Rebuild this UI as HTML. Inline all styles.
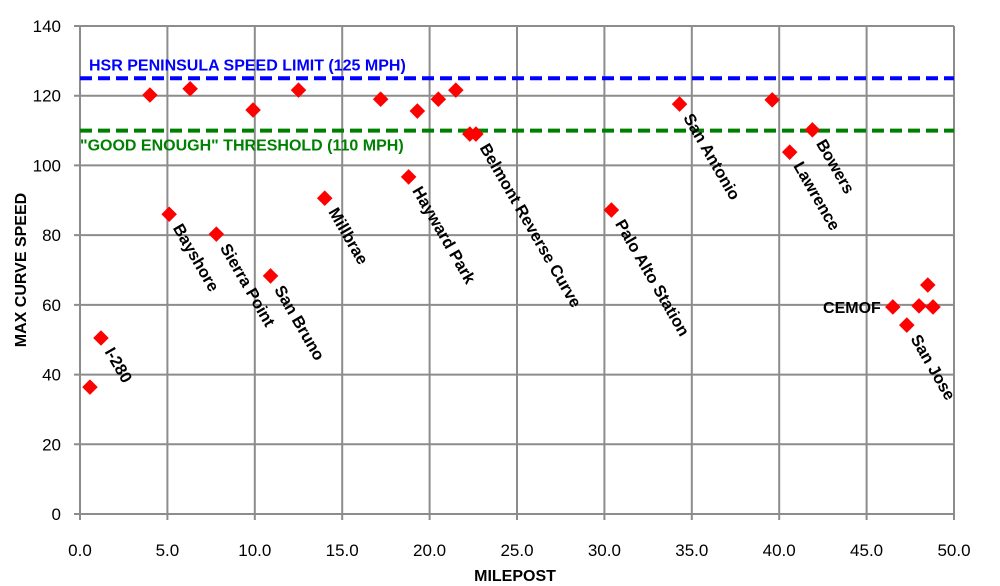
<!DOCTYPE html>
<html><head><meta charset="utf-8"><style>
html,body{margin:0;padding:0;background:#fff;}
svg{display:block;font-family:"Liberation Sans",Arial,sans-serif;}
</style></head><body>
<svg id="chart" width="1000" height="586" viewBox="0 0 1000 586" xmlns="http://www.w3.org/2000/svg"></svg>
<script>
const xs = [0.57,1.2,4.0,5.1,6.3,7.8,9.9,10.9,12.5,14.0,17.2,18.8,19.3,20.5,21.5,22.3,22.65,30.4,34.3,39.6,40.6,41.9,46.5,47.3,48.0,48.5,48.8];
const ys = [36.4,50.5,120.2,86,122,80.3,115.9,68.3,121.6,90.6,119,96.7,115.6,119,121.6,109,109,87.2,117.6,118.8,103.8,110.2,59.4,54.2,59.7,65.7,59.4];
const labelIdx = [1,3,5,7,9,11,16,17,18,20,21,23];
const labelText = ["I-280","Bayshore","Sierra Point","San Bruno","Millbrae","Hayward Park","Belmont Reverse Curve","Palo Alto Station","San Antonio","Lawrence","Bowers","San Jose"];
const xTicks = [0,5,10,15,20,25,30,35,40,45,50];
const yTicks = [0,20,40,60,80,100,120,140];
const limits = [125,110];
const limitText = ["HSR PENINSULA SPEED LIMIT (125 MPH)","\"GOOD ENOUGH\" THRESHOLD (110 MPH)"];

const NS="http://www.w3.org/2000/svg";
const svg=document.getElementById('chart');
const L=80,R=954,T=26,B=514;
const sx=v=>L+(v-0)/(50-0)*(R-L);
const sy=v=>B-(v-0)/(140-0)*(B-T);
function mk(tag,attrs,parent){const e=document.createElementNS(NS,tag);for(const k in attrs)e.setAttribute(k,attrs[k]);(parent||svg).appendChild(e);return e;}

const grid=mk('g',{});


xTicks.forEach(t=>{
  mk('line',{x1:sx(t),x2:sx(t),y1:T,y2:B+6,stroke:'#8c8c8c','stroke-width':2},grid);
  const tx=mk('text',{x:sx(t),y:556,'text-anchor':'middle','font-size':17,fill:'#000'});
  tx.textContent=t.toFixed(1);
  
  
});
yTicks.forEach(t=>{
  mk('line',{x1:L-6,x2:R,y1:sy(t),y2:sy(t),stroke:'#8c8c8c','stroke-width':2},grid);
  const tx=mk('text',{x:61,y:sy(t)+6,'text-anchor':'end','font-size':17,fill:'#000'});
  tx.textContent=String(t);
  
  
});

const colors=['#0000ff','#008000'];
limits.forEach((v,i)=>{
  const ln=mk('line',{x1:L,x2:R,y1:sy(v),y2:sy(v),stroke:colors[i],'stroke-width':4,'stroke-dasharray':'12 6'});
  
  
  const tx=mk('text',{x:i===0?89:80,y:i===0?sy(v)-8:sy(v)+20,'font-size':16,'font-weight':'bold',fill:colors[i]});
  tx.textContent=limitText[i];
  
  
});

xs.forEach((x,i)=>{
  const cx=sx(x),cy=sy(ys[i]);
  const p=mk('rect',{x:cx-5.5,y:cy-5.5,width:11,height:11,fill:'#ff0000',transform:`rotate(45 ${cx} ${cy})`});
  
  
});

labelIdx.forEach((idx,j)=>{
  const ax=sx(xs[idx])+13,ay=sy(ys[idx])+8;
  const tx=mk('text',{x:ax,y:ay,'font-size':16.5,'font-weight':'bold',fill:'#000',transform:`rotate(60 ${ax} ${ay})`,'dominant-baseline':'hanging'});
  tx.textContent=labelText[j];
  
  
});
const cem=mk('text',{x:sx(xs[22])-12,y:sy(ys[22])+6,'text-anchor':'end','font-size':16,'font-weight':'bold',fill:'#000'});
cem.textContent='CEMOF';



const xt=mk('text',{x:515,y:581,'text-anchor':'middle','font-size':16,'font-weight':'bold'});
xt.textContent='MILEPOST';


const yt=mk('text',{x:26,y:270,'text-anchor':'middle','font-size':16,'font-weight':'bold',transform:'rotate(-90 26 270)'});
yt.textContent='MAX CURVE SPEED';


</script>
</body></html>
